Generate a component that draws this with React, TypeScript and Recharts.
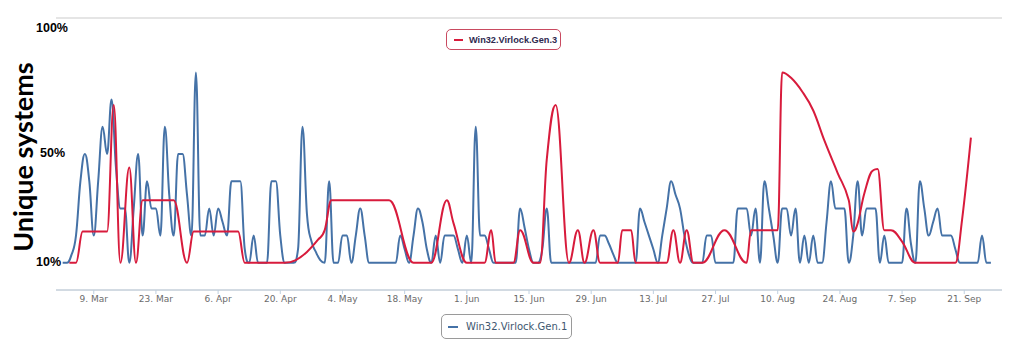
import { CartesianGrid, Line, LineChart, XAxis, YAxis } from 'recharts';

// days counted from 1 Mar
const gen1Start = 1;
const gen1Values = [
  1, 1, 1.3, 2, 4, 5, 4, 2, 4, 6,
  5, 7, 4.5, 3, 3, 1, 3, 5, 2, 4,
  3, 3, 2, 6, 3.5, 2, 5, 5, 3.5, 2,
  8, 2, 2, 3, 2, 3, 2.5, 2, 4, 4,
  4, 1.5, 1, 2, 1, 1, 1, 4, 4, 2,
  1, 1, 1, 1.5, 6, 2.8, 1.8, 1.4, 1.1, 1,
  4, 1, 1, 2, 2, 1, 2, 3, 2, 1,
  1, 1, 1, 1, 1, 1, 2, 1.5, 1, 2,
  3, 2.5, 1.5, 1, 2, 1, 2, 2, 2, 1.5,
  1, 2, 1, 6, 2, 2, 1.5, 1, 1, 1,
  1, 1, 1, 3, 2.3, 1.5, 1, 1, 1.5, 3,
  1, 1, 1, 1, 1, 1, 1, 1, 1, 1,
  1, 2, 2, 1.7, 1.3, 1, 1, 1, 1, 1,
  3, 2.5, 2, 1.5, 1, 2, 3, 4, 3.5, 3,
  2, 1.3, 1, 1, 1, 2, 2, 1, 1, 1,
  1, 1, 3, 3, 3, 2, 3, 1, 4, 3,
  2, 1, 3, 3, 2, 3, 1, 2, 1, 2,
  1, 1, 2.5, 4, 3, 3, 3, 1, 2, 4,
  2, 3, 3, 3, 1, 2, 1, 1, 1, 1,
  3, 1.7, 1, 4, 3, 2, 2.5, 3, 2, 2,
  2, 1.5, 1, 1, 1, 1, 1, 2, 1, 1,
];

const gen3Days = [
  2.5, 4, 5.5, 11, 12.5, 14, 16, 17.5, 19, 26,
  29, 30.5, 40.5, 42, 51, 53.5, 56, 58.5, 60, 61.5,
  74.5, 80, 84, 87.5, 89, 92, 96, 97.5, 98.5, 102.5,
  104, 107, 108.5, 110, 112, 115, 117, 118.5, 120.5, 122,
  126, 127, 129, 130, 137, 138.5, 140, 141.5, 143, 145,
  150, 155, 156, 162, 163, 165, 167.5, 170, 172.5, 175.5,
  178, 179, 180, 181.5, 183.5, 184.5, 186, 187.5, 190, 193,
  202, 203.5, 205.5,
];
const gen3Values = [
  1, 1, 2.15, 2.15, 6.8, 1, 4.5, 1, 3.3, 3.3,
  1, 2.15, 2.15, 1, 1, 1.1, 1.4, 1.85, 2.2, 3.3,
  3.3, 1, 1, 3.3, 2.46, 1, 1, 2.2, 1, 1,
  2.2, 1, 1, 4.8, 6.8, 1, 2.2, 1, 2.2, 1,
  1, 2.2, 2.2, 1, 1, 2.2, 1, 2.2, 1, 1,
  2.2, 1, 2.2, 2.2, 8, 7.8, 7.3, 6.6, 5.5, 4.3,
  3.3, 2.15, 2.45, 3.55, 4.4, 4.45, 2.2, 2.2, 1.78, 1,
  1, 2.57, 5.6,
];

const tickDays = [8, 22, 36, 50, 64, 78, 92, 106, 120, 134, 148, 162, 176, 190, 204];
const tickLabels = [
  '9. Mar', '23. Mar', '6. Apr', '20. Apr', '4. May', '18. May', '1. Jun', '15. Jun',
  '29. Jun', '13. Jul', '27. Jul', '10. Aug', '24. Aug', '7. Sep', '21. Sep',
];
const yTicks = [0, 2, 4, 6, 8, 10];
const pctLabels = ['100%', '50%', '10%'];

const gen1Data = gen1Values.map((value, i) => ({ day: gen1Start + i, value }));
const gen3Data = gen3Days.map((day, i) => ({ day, value: gen3Values[i] }));

const BLUE = '#4572A7';
const RED = '#D81B3C';

// spline in the Highcharts way (control points at 1/2.5 of the gap, clamped at extremes)
const splineCurve = (context: any) => {
  let xs: number[] = [];
  let ys: number[] = [];
  return {
    areaStart() {},
    areaEnd() {},
    lineStart() {
      xs = [];
      ys = [];
    },
    point(x: number, y: number) {
      xs.push(+x);
      ys.push(+y);
    },
    lineEnd() {
      const n = xs.length;
      if (!n) return;
      const sm = 1.5;
      const den = sm + 1;
      const lc: number[][] = [];
      const rc: number[][] = [];
      for (let i = 0; i < n; i++) {
        const x = xs[i];
        const y = ys[i];
        if (i === 0 || i === n - 1) {
          lc.push([x, y]);
          rc.push([x, y]);
          continue;
        }
        const lx = xs[i - 1], ly = ys[i - 1], nx = xs[i + 1], ny = ys[i + 1];
        const lcx = (sm * x + lx) / den;
        let lcy = (sm * y + ly) / den;
        const rcx = (sm * x + nx) / den;
        let rcy = (sm * y + ny) / den;
        const corr = rcx !== lcx ? ((rcy - lcy) * (rcx - x)) / (rcx - lcx) + y - rcy : 0;
        lcy += corr;
        rcy += corr;
        if (lcy > ly && lcy > y) {
          lcy = Math.max(ly, y);
          rcy = 2 * y - lcy;
        } else if (lcy < ly && lcy < y) {
          lcy = Math.min(ly, y);
          rcy = 2 * y - lcy;
        }
        if (rcy > ny && rcy > y) {
          rcy = Math.max(ny, y);
          lcy = 2 * y - rcy;
        } else if (rcy < ny && rcy < y) {
          rcy = Math.min(ny, y);
          lcy = 2 * y - rcy;
        }
        lc.push([lcx, lcy]);
        rc.push([rcx, rcy]);
      }
      context.moveTo(xs[0], ys[0]);
      for (let i = 1; i < n; i++) {
        context.bezierCurveTo(rc[i - 1][0], rc[i - 1][1], lc[i][0], lc[i][1], xs[i], ys[i]);
      }
    },
  };
};

const pctStyle = {
  position: 'absolute' as const,
  fontFamily: "'Liberation Sans', Arial, sans-serif",
  fontWeight: 700,
  fontSize: 12.5,
  lineHeight: '14px',
  color: '#000',
};

export default function App() {
  return (
    <div style={{ position: 'absolute', left: 0, top: 0, width: 1011, height: 354, background: '#fff' }}>
      <LineChart width={1011} height={354} margin={{ top: 18, right: 9, bottom: 34, left: 56 }}>
        <CartesianGrid vertical={false} stroke="#dcdcdc" strokeWidth={1.5} />
        <XAxis
          dataKey="day"
          type="number"
          domain={[-0.5, 212.5]}
          allowDataOverflow
          ticks={tickDays}
          tickFormatter={(d: number) => tickLabels[tickDays.indexOf(d)] ?? ''}
          height={30}
          stroke="#c0d0e0"
          tickSize={4}
          tickMargin={2}
          tick={{ fill: '#6b6b6b', fontSize: 9, fontFamily: "'DejaVu Sans', sans-serif" }}
        />
        <YAxis
          domain={[0, 10]}
          ticks={yTicks}
          width={0}
          tick={false}
          axisLine={false}
          tickLine={false}
        />
        <Line
          data={gen1Data}
          dataKey="value"
          type={splineCurve as any}
          stroke={BLUE}
          strokeWidth={2}
          dot={false}
          isAnimationActive={false}
        />
        <Line
          data={gen3Data}
          dataKey="value"
          type={splineCurve as any}
          stroke={RED}
          strokeWidth={2}
          dot={false}
          isAnimationActive={false}
        />
      </LineChart>

      <div
        style={{
          position: 'absolute',
          left: -77,
          top: 141,
          width: 200,
          lineHeight: '32px',
          textAlign: 'center',
          transform: 'rotate(-90deg)',
          fontFamily: "Lato, sans-serif",
          fontWeight: 700,
          fontSize: 27,
          color: '#000',
          whiteSpace: 'nowrap',
        }}
      >
        Unique systems
      </div>

      <div style={{ ...pctStyle, left: 36, top: 21 }}>{pctLabels[0]}</div>
      <div style={{ ...pctStyle, left: 40, top: 146 }}>{pctLabels[1]}</div>
      <div style={{ ...pctStyle, left: 36, top: 255 }}>{pctLabels[2]}</div>

      <div
        style={{
          position: 'absolute',
          left: 446,
          top: 29,
          width: 113,
          height: 19,
          border: '1px solid #c94a60',
          borderRadius: 5,
          display: 'flex',
          alignItems: 'center',
          boxSizing: 'content-box',
        }}
      >
        <span style={{ display: 'inline-block', width: 9, height: 2, background: RED, marginLeft: 7, marginRight: 6 }} />
        <span
          style={{
            fontFamily: "'Liberation Sans', Arial, sans-serif",
            fontWeight: 700,
            fontSize: 9.2,
            color: '#2f2a4f',
            whiteSpace: 'nowrap',
          }}
        >
          Win32.Virlock.Gen.3
        </span>
      </div>

      <div
        style={{
          position: 'absolute',
          left: 441,
          top: 314,
          width: 129,
          height: 23,
          border: '1px solid #9a9a9a',
          borderRadius: 5,
          display: 'flex',
          alignItems: 'center',
          boxSizing: 'content-box',
        }}
      >
        <span style={{ display: 'inline-block', width: 10, height: 2, background: BLUE, marginLeft: 6, marginRight: 8 }} />
        <span
          style={{
            fontFamily: "'DejaVu Sans', sans-serif",
            fontSize: 10,
            color: '#3E576F',
            whiteSpace: 'nowrap',
          }}
        >
          Win32.Virlock.Gen.1
        </span>
      </div>
    </div>
  );
}
